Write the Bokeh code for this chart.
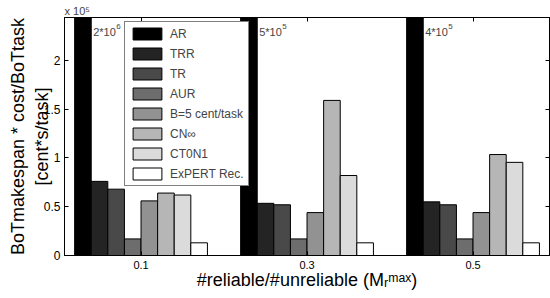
import numpy as np
from bokeh.plotting import figure
from bokeh.models import Range1d, FixedTicker, Label, Legend, LegendItem, LinearAxis
from bokeh.embed import file_html
from bokeh.resources import INLINE

# ---------------- data (values in units of 10^5) ----------------
groups = [1, 2, 3]
group_labels = ["0.1", "0.3", "0.5"]
series_names = ["AR", "TRR", "TR", "AUR", "B=5 cent/task", "CN\u221e", "CT0N1", "ExPERT Rec."]
ar_vals = [20.0, 5.0, 4.0]
trr_vals = [0.76, 0.535, 0.55]
tr_vals = [0.68, 0.52, 0.52]
aur_vals = [0.17, 0.17, 0.17]
b5_vals = [0.56, 0.44, 0.44]
cn_vals = [0.64, 1.59, 1.035]
ct0n1_vals = [0.62, 0.82, 0.955]
expert_vals = [0.13, 0.13, 0.13]
series_colors = ["#000000", "#242424", "#494949", "#6d6d6d",
                 "#929292", "#b6b6b6", "#dbdbdb", "#ffffff"]
ar_note_base = ["2*10", "5*10", "4*10"]
ar_note_exp = ["6", "5", "5"]
y_ticks = [0, 0.5, 1, 1.5, 2]
y_tick_labels = ["0", "0.5", "1", "1.5", "2"]
y_title = "BoTmakespan * cost/BoTtask\n[cent*s/task]"
x_title = "#reliable/#unreliable (M\u1d63\u1d50\u1d43\u02e3)"
scale_note = "x 10\u2075"

all_vals = [ar_vals, trr_vals, tr_vals, aur_vals, b5_vals, cn_vals, ct0n1_vals, expert_vals]

FONT = "Liberation Sans"
W, H = 550, 298
FL, FR, FT, FB = 64, 549, 17, 255          # frame edges (canvas px)
X0 = 0.539
X1 = X0 + (FR - FL) / 166.0
Y0, Y1 = 0.0, 2.44
PXU = (FB - FT) / (Y1 - Y0)
BAR_W = 0.1

p = figure(width=W, height=H, output_backend="svg", toolbar_location=None,
           x_range=Range1d(X0, X1), y_range=Range1d(Y0, Y1),
           min_border_left=FL, min_border_right=W - FR, min_border_top=FT,
           min_border_bottom=H - FB)
p.background_fill_color = "white"
p.border_fill_color = "white"
p.outline_line_color = "black"
p.outline_line_width = 1
p.xgrid.visible = False
p.ygrid.visible = False

# title used as the "x 10^5" multiplier note
p.title.text = scale_note
p.title.align = "left"
p.title.text_font = FONT
p.title.text_font_size = "11px"
p.title.text_font_style = "normal"
p.title.standoff = 1
p.title.offset = 0

# bars
renderers = []
n = len(series_names)
for i, (name, vals, col) in enumerate(zip(series_names, all_vals, series_colors)):
    xs = np.array(groups, dtype=float) + (i - (n - 1) / 2) * BAR_W
    r = p.vbar(x=xs, top=vals, bottom=0, width=BAR_W, fill_color=col,
               line_color="black", line_width=1)
    renderers.append(r)

# axes
p.xaxis.ticker = FixedTicker(ticks=groups)
p.xaxis.major_label_overrides = {g: l for g, l in zip(groups, group_labels)}
p.xaxis.major_tick_in = 4
p.xaxis.major_tick_out = 0
p.xaxis.minor_tick_line_color = None
p.xaxis.major_label_standoff = 5
p.xaxis.major_label_text_font = FONT
p.xaxis.major_label_text_font_size = "11px"
p.xaxis.major_label_text_color = "black"
p.xaxis.axis_line_color = "black"
p.xaxis.axis_label = x_title
p.xaxis.axis_label_text_font = FONT
p.xaxis.axis_label_text_font_size = "18px"
p.xaxis.axis_label_text_font_style = "normal"
p.xaxis.axis_label_text_color = "black"
p.xaxis.axis_label_standoff = -2

p.yaxis.ticker = FixedTicker(ticks=y_ticks)
p.yaxis.major_label_overrides = {float(t): l for t, l in zip(y_ticks, y_tick_labels)}
p.yaxis.major_tick_in = 4
p.yaxis.major_tick_out = 0
p.yaxis.minor_tick_line_color = None
p.yaxis.major_label_standoff = 4
p.yaxis.major_label_text_font = FONT
p.yaxis.major_label_text_font_size = "12px"
p.yaxis.major_label_text_color = "black"
p.yaxis.axis_line_color = "black"
p.yaxis.axis_label = y_title
p.yaxis.axis_label_text_font = FONT
p.yaxis.axis_label_text_font_size = "18px"
p.yaxis.axis_label_text_font_style = "normal"
p.yaxis.axis_label_text_color = "black"
p.yaxis.axis_label_text_align = "center"
p.yaxis.axis_label_standoff = -11

top_axis = LinearAxis(ticker=FixedTicker(ticks=groups),
                      major_label_overrides={g: "" for g in groups},
                      major_tick_in=4, major_tick_out=0, major_label_standoff=0,
                      minor_tick_line_color=None, axis_line_color="black")
p.add_layout(top_axis, "above")
right_axis = LinearAxis(ticker=FixedTicker(ticks=y_ticks),
                        major_label_overrides={float(t): "" for t in y_ticks},
                        major_tick_in=4, major_tick_out=0, major_label_standoff=0,
                        minor_tick_line_color=None, axis_line_color="black")
p.add_layout(right_axis, "right")

# legend
legend = Legend(items=[LegendItem(label=nm, renderers=[r]) for nm, r in zip(series_names, renderers)],
                location=(60, 69), margin=0, padding=4, spacing=5,
                glyph_width=36, glyph_height=15, label_height=15, label_standoff=5,
                label_text_font=FONT, label_text_font_size="12px",
                border_line_color="black", border_line_width=1,
                background_fill_color="white", background_fill_alpha=1.0)
p.add_layout(legend)

# AR out-of-range notes (inside the frame, data units)
for g, base, ex in zip(groups, ar_note_base, ar_note_exp):
    xl = g - (n - 1) / 2 * BAR_W + BAR_W / 2 + 0.012
    p.add_layout(Label(x=xl, y=(FB - 31) / PXU, text=base, text_font=FONT, text_font_size="11px",
                       text_baseline="alphabetic", text_align="left"))
    p.add_layout(Label(x=xl + 0.138, y=(FB - 25.5) / PXU, text=ex, text_font=FONT,
                       text_font_size="8px", text_baseline="alphabetic", text_align="left"))

open("out.html", "w").write(file_html(p, INLINE))
